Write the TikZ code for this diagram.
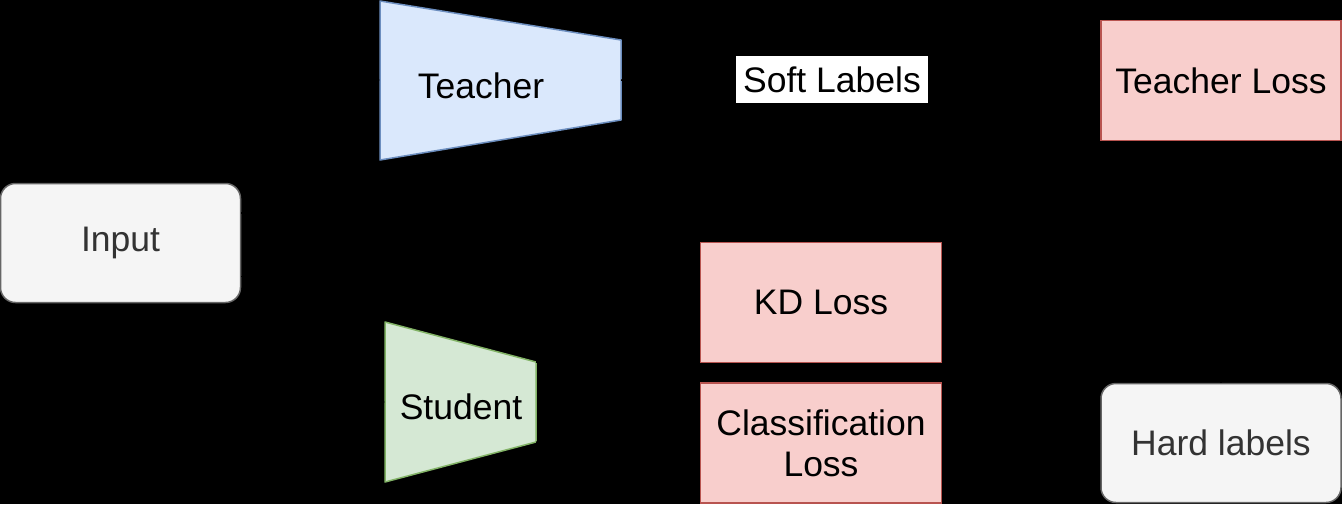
\documentclass[tikz,border=0pt]{standalone}
\usepackage{fontspec}
\setmainfont{Liberation Sans}
\usetikzlibrary{arrows.meta,calc}
\definecolor{greyfill}{HTML}{F5F5F5}
\definecolor{greyline}{HTML}{666666}
\definecolor{greytext}{HTML}{333333}
\definecolor{bluefill}{HTML}{DAE8FC}
\definecolor{blueline}{HTML}{6C8EBF}
\definecolor{greenfill}{HTML}{D5E8D4}
\definecolor{greenline}{HTML}{82B366}
\definecolor{redfill}{HTML}{F8CECC}
\definecolor{redline}{HTML}{B85450}
\tikzset{
  lbl/.style={font=\fontsize{35.5}{41}\selectfont, align=center},
  greybox/.style={lbl, draw=greyline, fill=greyfill, text=greytext, line width=1.5pt, rounded corners=15pt, inner sep=0pt},
  redbox/.style={lbl, draw=redline, fill=redfill, line width=1.5pt, inner sep=0pt},
  conn/.style={draw=black, line width=1.5pt, -{Triangle[length=10pt,width=8pt]}},
  plain/.style={draw=black, line width=1.5pt},
}
\begin{document}
\begin{tikzpicture}[x=1pt,y=-1pt]
\fill[black] (0,0) rectangle (1342,504);
\useasboundingbox (0,0) rectangle (1342,504);

% boxes
\node[greybox, minimum width=240pt, minimum height=119pt] (input) at (120.5,243) {Input};
\node[redbox, minimum width=240pt, minimum height=120pt] (tloss) at (1221,80.5) {Teacher Loss};
\node[greybox, minimum width=240pt, minimum height=119pt] (hard) at (1221,443) {Hard labels};
\node[redbox, minimum width=241pt, minimum height=120pt] (kd) at (821,302.5) {KD Loss};
\node[redbox, minimum width=241pt, minimum height=120pt] (cls) at (821,443) {Classification\\Loss};

% teacher trapezoid
\coordinate (tA) at (380,1);
\coordinate (tB) at (621,40);
\coordinate (tC) at (621,120);
\coordinate (tD) at (380,160);
\filldraw[fill=bluefill, draw=blueline, line width=1.5pt, line join=round] (tA) -- (tB) -- (tC) -- (tD) -- cycle;
\node[lbl] (teacher) at (481,86) {Teacher};
\coordinate (tin) at (380,80);
\coordinate (tout) at (621,80);

% student trapezoid
\coordinate (sA) at (385,322);
\coordinate (sB) at (536,362);
\coordinate (sC) at (536,442);
\coordinate (sD) at (385,482);
\filldraw[fill=greenfill, draw=greenline, line width=1.5pt, line join=round] (sA) -- (sB) -- (sC) -- (sD) -- cycle;
\node[lbl] (student) at (461,407) {Student};
\coordinate (sin) at (385,402);

% soft labels
\node[lbl, fill=white, minimum width=192pt, minimum height=47pt, inner sep=0pt] (soft) at (832,79.5) {Soft Labels};

% connectors (black, as in the reference)
\draw[conn] ($(input.north east)!0.25!(input.south east)$) -- ++(70,0) |- (tin);
\draw[conn] ($(input.north east)!0.78!(input.south east)$) -- ++(70,0) |- (sin);
\draw[plain] (tout) -- (soft.west);
\draw[conn] (soft.east) -- (tloss.west);
\draw[conn] (soft.south) -- (kd.north);
\draw[conn] (sB) -- ++(80,0) |- ($(kd.north west)!0.25!(kd.south west)$);
\draw[conn] (sC) -- (cls.west);
\draw[conn] (hard.west) -- (cls.east);
\draw[conn] (hard.north) -- (tloss.south);
\end{tikzpicture}
\end{document}
